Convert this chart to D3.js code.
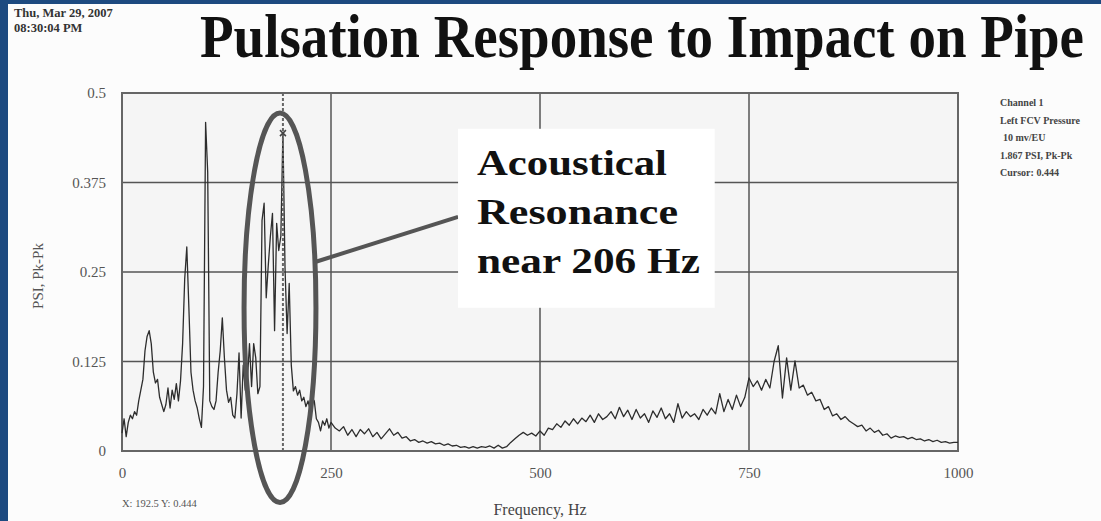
<!DOCTYPE html>
<html>
<head>
<meta charset="utf-8">
<script src="https://cdn.jsdelivr.net/npm/d3@7"></script>
<style>
  html, body { margin: 0; padding: 0; background: #1d4a80; }
  svg { display: block; }
</style>
</head>
<body>
<div id="chart"></div>
<script>
// spectrum, 0 - 247.5 Hz in 2.5 Hz bins
const lowBandStep = 2.5;
const lowBand = [
  0.025, 0.045, 0.020, 0.040, 0.050, 0.045, 0.055, 0.050, 0.070, 0.085,
  0.100, 0.140, 0.160, 0.168, 0.150, 0.110, 0.095, 0.100, 0.075, 0.065,
  0.055, 0.065, 0.088, 0.060, 0.085, 0.072, 0.094, 0.070, 0.098, 0.150,
  0.240, 0.285, 0.200, 0.110, 0.085, 0.070, 0.060, 0.045, 0.033, 0.090,
  0.459, 0.390, 0.070, 0.062, 0.058, 0.070, 0.110, 0.140, 0.186, 0.130,
  0.085, 0.068, 0.075, 0.050, 0.046, 0.080, 0.137, 0.046, 0.120, 0.085,
  0.100, 0.150, 0.090, 0.150, 0.130, 0.080, 0.090, 0.322, 0.346, 0.214,
  0.260, 0.300, 0.332, 0.168, 0.318, 0.280, 0.300, 0.444, 0.256, 0.164,
  0.234, 0.120, 0.084, 0.090, 0.078, 0.085, 0.070, 0.075, 0.062, 0.070,
  0.058, 0.074, 0.070, 0.045, 0.040, 0.028, 0.042, 0.036, 0.045, 0.032
];

// 250 - 1000 Hz in 5 Hz bins
const highBandStart = 250;
const highBandStep = 5;
const highBand = [
  0.040, 0.032, 0.028, 0.034, 0.022, 0.030, 0.020, 0.030, 0.024, 0.031,
  0.020, 0.026, 0.017, 0.024, 0.031, 0.022, 0.026, 0.018, 0.020, 0.014,
  0.016, 0.012, 0.014, 0.011, 0.013, 0.010, 0.011, 0.008, 0.010, 0.007,
  0.008, 0.005, 0.006, 0.004, 0.006, 0.004, 0.006, 0.005, 0.007, 0.004,
  0.008, 0.004, 0.006, 0.012, 0.017, 0.022, 0.026, 0.022, 0.025, 0.021,
  0.028, 0.022, 0.032, 0.030, 0.038, 0.033, 0.042, 0.036, 0.045, 0.038,
  0.046, 0.041, 0.050, 0.040, 0.052, 0.044, 0.048, 0.055, 0.045, 0.061,
  0.048, 0.057, 0.044, 0.058, 0.046, 0.052, 0.040, 0.056, 0.047, 0.060,
  0.045, 0.052, 0.040, 0.066, 0.046, 0.055, 0.048, 0.052, 0.044, 0.058,
  0.050, 0.060, 0.052, 0.080, 0.055, 0.072, 0.058, 0.078, 0.062, 0.075,
  0.102, 0.090, 0.098, 0.085, 0.100, 0.088, 0.125, 0.147, 0.074, 0.130,
  0.085, 0.126, 0.088, 0.092, 0.078, 0.082, 0.070, 0.072, 0.058, 0.062,
  0.049, 0.052, 0.044, 0.048, 0.042, 0.038, 0.034, 0.036, 0.028, 0.032,
  0.026, 0.029, 0.022, 0.024, 0.018, 0.021, 0.019, 0.020, 0.017, 0.019,
  0.016, 0.017, 0.014, 0.016, 0.013, 0.015, 0.012, 0.013, 0.011, 0.012,
  0.012
];

const xTicks = [0, 250, 500, 750, 1000];
const yTicks = [0, 0.125, 0.25, 0.375, 0.5];
const xGrid = [250, 500, 750];
const yGrid = [0.125, 0.25, 0.375];

const stamp = ["Thu, Mar 29, 2007", "08:30:04 PM"];
const channelInfo = ["Channel 1", "Left FCV Pressure", "10 mv/EU", "1.867 PSI, Pk-Pk", "Cursor: 0.444"];
const cursor = {f: 192.5, v: 0.444};
const calloutLines = ["Acoustical", "Resonance", "near 206 Hz"];

const serif = "'Liberation Serif', 'Times New Roman', serif";
const W = 1101, H = 521;

const data = lowBand.map((v, i) => ({f: i * lowBandStep, v}))
  .concat(highBand.map((v, i) => ({f: highBandStart + i * highBandStep, v})));

const svg = d3.select("#chart").append("svg")
  .attr("width", W)
  .attr("height", H);

svg.append("rect").attr("width", W).attr("height", H).attr("fill", "#1d4a80");
svg.append("rect")
  .attr("x", 8).attr("y", 4)
  .attr("width", W - 8).attr("height", H - 4)
  .attr("fill", "#fcfcfc");

const x = d3.scaleLinear().domain([0, 1000]).range([122, 958]);
const y = d3.scaleLinear().domain([0, 0.5]).range([451, 93]);

// plot area
svg.append("rect")
  .attr("x", x(0)).attr("y", y(0.5))
  .attr("width", x(1000) - x(0)).attr("height", y(0) - y(0.5))
  .attr("fill", "#f5f5f5");

svg.append("g").selectAll("line")
  .data(xGrid)
  .join("line")
    .attr("x1", d => x(d)).attr("x2", d => x(d))
    .attr("y1", y(0.5)).attr("y2", y(0))
    .attr("stroke", "#555").attr("stroke-width", 1.5);

svg.append("g").selectAll("line")
  .data(yGrid)
  .join("line")
    .attr("x1", x(0)).attr("x2", x(1000))
    .attr("y1", d => y(d)).attr("y2", d => y(d))
    .attr("stroke", "#555").attr("stroke-width", 1.5);

svg.append("rect")
  .attr("x", x(0)).attr("y", y(0.5))
  .attr("width", x(1000) - x(0)).attr("height", y(0) - y(0.5))
  .attr("fill", "none")
  .attr("stroke", "#666").attr("stroke-width", 2);

// spectrum trace
svg.append("path")
  .datum(data)
  .attr("fill", "none")
  .attr("stroke", "#2d2d2d")
  .attr("stroke-width", 1.3)
  .attr("stroke-linejoin", "round")
  .attr("d", d3.line().x(d => x(d.f)).y(d => y(d.v)));

// cursor
svg.append("line")
  .attr("x1", x(cursor.f)).attr("x2", x(cursor.f))
  .attr("y1", y(0.5)).attr("y2", y(0))
  .attr("stroke", "#666").attr("stroke-width", 2)
  .attr("stroke-dasharray", "3,2");
const cx = x(cursor.f), cy = y(cursor.v);
svg.append("path")
  .attr("d", `M${cx - 3},${cy - 3}L${cx + 3},${cy + 3}M${cx + 3},${cy - 3}L${cx - 3},${cy + 3}`)
  .attr("stroke", "#444").attr("stroke-width", 1.5);

// axes
const xAxis = svg.append("g")
  .attr("transform", `translate(0,${y(0)})`)
  .call(d3.axisBottom(x).tickValues(xTicks).tickSize(0).tickPadding(16).tickFormat(d => String(d)));
xAxis.select(".domain").remove();
xAxis.selectAll("text")
  .attr("font-family", serif).attr("font-size", 15).attr("fill", "#555");

const yAxis = svg.append("g")
  .attr("transform", `translate(${x(0)},0)`)
  .call(d3.axisLeft(y).tickValues(yTicks).tickSize(0).tickPadding(16).tickFormat(d => String(d)));
yAxis.select(".domain").remove();
yAxis.selectAll("text")
  .attr("font-family", serif).attr("font-size", 15).attr("fill", "#555");

svg.append("text")
  .attr("transform", "translate(43,276) rotate(-90)")
  .attr("text-anchor", "middle")
  .attr("font-family", serif).attr("font-size", 15).attr("fill", "#555")
  .text("PSI, Pk-Pk");

svg.append("text")
  .attr("x", 540).attr("y", 515)
  .attr("text-anchor", "middle")
  .attr("font-family", serif).attr("font-size", 16).attr("fill", "#444")
  .text("Frequency, Hz");

svg.append("text")
  .attr("x", 122).attr("y", 507)
  .attr("font-family", serif).attr("font-size", 10.5).attr("fill", "#555")
  .text(`X: ${cursor.f} Y: ${cursor.v}`);

// header: slightly tall, narrow type like the slide
svg.append("text")
  .attr("transform", "translate(200,57) scale(1,1.12)")
  .attr("font-family", serif).attr("font-size", 55).attr("font-weight", "bold")
  .attr("fill", "#111")
  .attr("textLength", 884).attr("lengthAdjust", "spacingAndGlyphs")
  .text("Pulsation Response to Impact on Pipe");

svg.append("g").selectAll("text")
  .data(stamp)
  .join("text")
    .attr("x", 14).attr("y", (d, i) => 17 + i * 15)
    .attr("font-family", serif).attr("font-size", 12.5).attr("font-weight", "bold")
    .attr("fill", "#333")
    .text(d => d);

svg.append("g").selectAll("text")
  .data(channelInfo)
  .join("text")
    .attr("x", (d, i) => i === 2 ? 1003 : 1000)
    .attr("y", (d, i) => 106 + i * 17.5)
    .attr("font-family", serif).attr("font-size", 10).attr("font-weight", "bold")
    .attr("fill", "#444")
    .text(d => d);

// callout: ellipse round the resonance, leader, label box
svg.append("ellipse")
  .attr("cx", x(189)).attr("cy", y(0.2))
  .attr("rx", x(232) - x(189)).attr("ry", y(0) - y(0.272))
  .attr("fill", "none")
  .attr("stroke", "#555").attr("stroke-width", 5);

svg.append("line")
  .attr("x1", x(231)).attr("y1", y(0.264))
  .attr("x2", x(402)).attr("y2", y(0.327))
  .attr("stroke", "#555").attr("stroke-width", 4);

svg.append("rect")
  .attr("x", x(402)).attr("y", y(0.45))
  .attr("width", x(709) - x(402)).attr("height", y(0.2) - y(0.45))
  .attr("fill", "#fff");

const calloutWidths = [190, 201, 223];
svg.append("g").selectAll("text")
  .data(calloutLines)
  .join("text")
    .attr("x", 477).attr("y", (d, i) => 175 + i * 49)
    .attr("font-family", serif).attr("font-size", 35).attr("font-weight", "bold")
    .attr("fill", "#111")
    .attr("textLength", (d, i) => calloutWidths[i]).attr("lengthAdjust", "spacingAndGlyphs")
    .text(d => d);
</script>
</body>
</html>
